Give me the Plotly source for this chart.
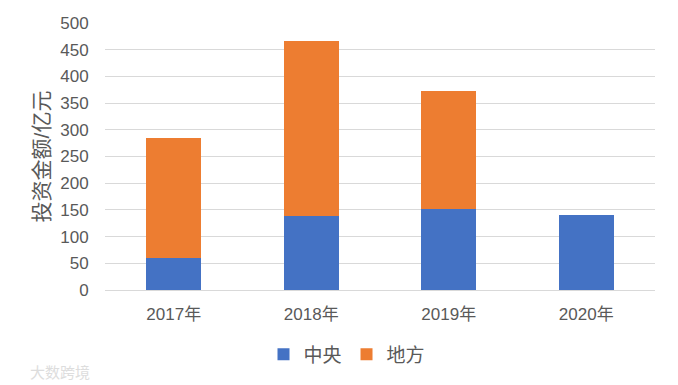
import plotly.graph_objects as go

years = ["2017年", "2018年", "2019年", "2020年"]
central = [60, 138, 151, 141]
local = [225, 329, 221, 0]
series_names = ["中央", "地方"]
y_ticks = [0, 50, 100, 150, 200, 250, 300, 350, 400, 450, 500]

FONT = "Liberation Sans, Noto Sans CJK SC, sans-serif"
TXT = "#595959"

fig = go.Figure()
fig.add_trace(go.Bar(x=years, y=central, name=series_names[0], marker_color="#4472C4",
                     marker_line_width=0, width=0.4))
fig.add_trace(go.Bar(x=years, y=local, name=series_names[1], marker_color="#ED7D31",
                     marker_line_width=0, width=0.4))

fig.update_layout(
    barmode="stack",
    width=678, height=385,
    margin=dict(l=105, r=23, t=23, b=93),
    paper_bgcolor="white", plot_bgcolor="white",
    font=dict(family=FONT, color=TXT, size=17),
    showlegend=True,
    legend=dict(orientation="h", x=0.44, xanchor="center", y=-0.17, yanchor="top",
                font=dict(size=19, color=TXT), itemwidth=30, traceorder="normal"),
)
fig.update_xaxes(showgrid=False, showline=False, zeroline=False, ticks="outside",
                 ticklen=9, tickcolor="white", tickfont=dict(size=17, color=TXT))
fig.update_yaxes(range=[0, 500], tickvals=y_ticks, showgrid=True, gridcolor="#D9D9D9",
                 gridwidth=1.3, zeroline=True, zerolinecolor="#D9D9D9", zerolinewidth=1.3,
                 showline=False, ticks="outside", ticklen=12, tickcolor="white",
                 tickfont=dict(size=17, color=TXT),
                 title=dict(text="投资金额/亿元", font=dict(size=21, color=TXT), standoff=4))

fig.add_annotation(text="大数跨境", xref="paper", yref="paper", x=-0.14, y=-0.27,
                   xanchor="left", yanchor="top", showarrow=False,
                   font=dict(size=15, color="#DDDDDD"))

fig.write_html("out.html")
